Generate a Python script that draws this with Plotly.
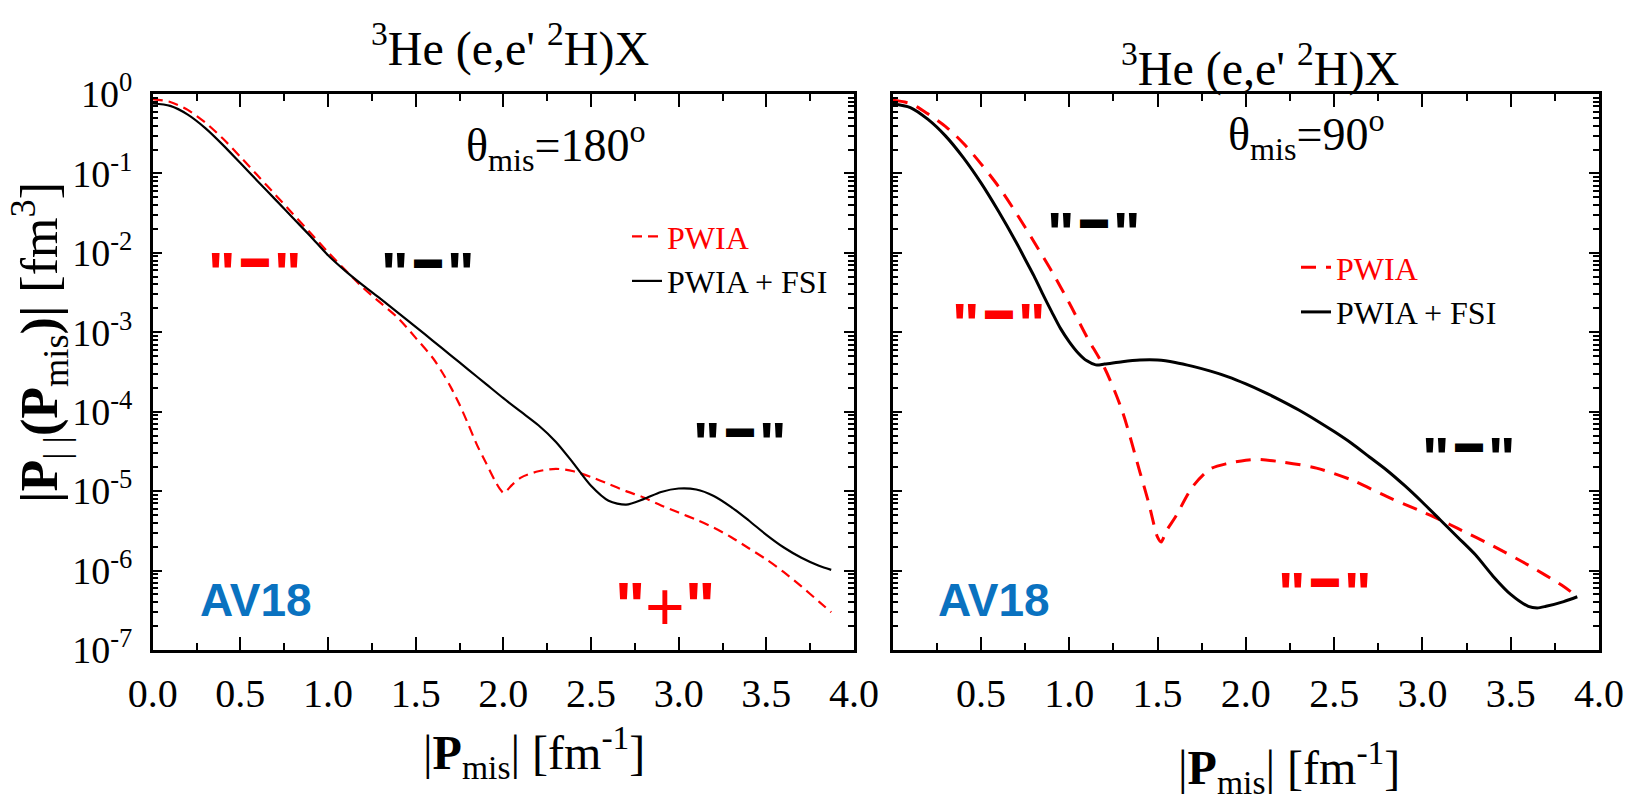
import plotly.graph_objects as go

# ---------------- data ----------------
# Left panel: theta_mis = 180 deg
x_l_pwia = [0.0, 0.1, 0.2, 0.3, 0.4, 0.5, 0.6, 0.7, 0.8, 0.9, 1.0, 1.1, 1.2, 1.3, 1.4, 1.5,
            1.6, 1.65, 1.7, 1.75, 1.8, 1.85, 1.9, 1.95, 1.98, 2.0, 2.02, 2.05, 2.1, 2.2, 2.3,
            2.4, 2.5, 2.6, 2.7, 2.8, 2.9, 3.0, 3.1, 3.2, 3.3, 3.4, 3.5, 3.6, 3.7, 3.8, 3.87]
y_l_pwia = [0.861, 0.794, 0.631, 0.437, 0.275, 0.162, 0.0933, 0.0537, 0.0309, 0.0178, 0.0102,
            6.03e-3, 3.63e-3, 2.34e-3, 1.51e-3, 8.51e-4, 4.68e-4, 3.16e-4, 2.04e-4, 1.23e-4,
            6.92e-5, 3.80e-5, 2.29e-5, 1.38e-5, 1.07e-5, 9.55e-6, 1.02e-5, 1.20e-5, 1.48e-5,
            1.78e-5, 1.91e-5, 1.78e-5, 1.51e-5, 1.23e-5, 1.0e-5, 8.32e-6, 6.61e-6, 5.37e-6,
            4.37e-6, 3.47e-6, 2.63e-6, 1.91e-6, 1.38e-6, 9.55e-7, 6.31e-7, 4.07e-7, 2.99e-7]

x_l_fsi = [0.0, 0.1, 0.2, 0.3, 0.4, 0.5, 0.6, 0.7, 0.8, 0.9, 1.0, 1.1, 1.2, 1.3, 1.4, 1.5,
           1.6, 1.7, 1.8, 1.9, 2.0, 2.1, 2.2, 2.3, 2.4, 2.5, 2.6, 2.7, 2.8, 2.9, 3.0, 3.1,
           3.2, 3.3, 3.4, 3.5, 3.6, 3.7, 3.8, 3.87]
y_l_fsi = [0.759, 0.708, 0.550, 0.372, 0.229, 0.135, 0.0794, 0.0468, 0.0275, 0.0162, 9.33e-3,
           5.89e-3, 3.89e-3, 2.63e-3, 1.76e-3, 1.17e-3, 7.76e-4, 5.13e-4, 3.39e-4, 2.24e-4,
           1.48e-4, 1.0e-4, 6.76e-5, 4.17e-5, 2.24e-5, 1.17e-5, 7.59e-6, 6.76e-6, 7.94e-6,
           9.77e-6, 1.08e-5, 1.05e-5, 8.71e-6, 6.31e-6, 4.27e-6, 2.82e-6, 1.95e-6, 1.45e-6,
           1.15e-6, 1.02e-6]

# Right panel: theta_mis = 90 deg
x_r_pwia = [0.0, 0.1, 0.2, 0.3, 0.4, 0.5, 0.6, 0.7, 0.8, 0.9, 1.0, 1.1, 1.2, 1.3, 1.4, 1.45,
            1.5, 1.52, 1.55, 1.6, 1.7, 1.8, 1.9, 2.0, 2.06, 2.2, 2.4, 2.6, 2.8, 3.0, 3.1, 3.2,
            3.4, 3.6, 3.8, 3.877]
y_r_pwia = [0.832, 0.759, 0.562, 0.389, 0.240, 0.132, 0.0681, 0.0316, 0.0138, 5.89e-3, 2.34e-3,
            8.71e-4, 3.55e-4, 1.02e-4, 1.74e-5, 7.08e-6, 2.63e-6, 2.29e-6, 3.16e-6, 4.68e-6,
            1.15e-5, 1.91e-5, 2.24e-5, 2.45e-5, 2.51e-5, 2.34e-5, 1.95e-5, 1.38e-5, 8.51e-6,
            5.50e-6, 4.37e-6, 3.39e-6, 2.04e-6, 1.17e-6, 6.31e-7, 4.68e-7]

x_r_fsi = [0.0, 0.1, 0.2, 0.3, 0.4, 0.5, 0.6, 0.7, 0.75, 0.8, 0.85, 0.9, 0.95, 1.0, 1.05,
           1.1, 1.15, 1.2, 1.3, 1.4, 1.5, 1.6, 1.7, 1.8, 1.9, 2.0, 2.1, 2.2, 2.3, 2.4, 2.5,
           2.6, 2.7, 2.8, 2.9, 3.0, 3.1, 3.2, 3.3, 3.4, 3.5, 3.6, 3.65, 3.7, 3.8, 3.877]
y_r_fsi = [0.750, 0.676, 0.479, 0.295, 0.158, 0.0759, 0.0331, 0.0135, 8.32e-3, 5.13e-3,
           3.02e-3, 1.82e-3, 1.12e-3, 7.59e-4, 5.50e-4, 4.37e-4, 3.89e-4, 3.98e-4, 4.27e-4,
           4.47e-4, 4.47e-4, 4.17e-4, 3.72e-4, 3.24e-4, 2.75e-4, 2.24e-4, 1.78e-4, 1.38e-4,
           1.05e-4, 7.76e-5, 5.62e-5, 3.98e-5, 2.69e-5, 1.82e-5, 1.17e-5, 7.24e-6, 4.37e-6,
           2.63e-6, 1.58e-6, 8.51e-7, 5.01e-7, 3.55e-7, 3.39e-7, 3.55e-7, 4.07e-7, 4.68e-7]

x_tick_left = [0.0, 0.5, 1.0, 1.5, 2.0, 2.5, 3.0, 3.5, 4.0]
x_tick_right = [0.5, 1.0, 1.5, 2.0, 2.5, 3.0, 3.5, 4.0]
y_exponents = [-7, -6, -5, -4, -3, -2, -1, 0]
y_tick_vals = [10.0 ** e for e in y_exponents]
y_tick_text = ["10<sup>%d</sup>" % e for e in y_exponents]
y_minor_vals = [m * 10.0 ** e for e in y_exponents[:-1] for m in range(2, 10)]

series_names = ["PWIA", "PWIA + FSI"]

# ---------------- figure ----------------
W, H = 1626, 802
SERIF = "Liberation Serif"
SANS = "Liberation Sans"
RED = "#ff0000"
BLUE = "#0a72c0"


def px(x):
    return x / W


def py(y):
    return 1 - y / H


fig = go.Figure()

fig.add_trace(go.Scatter(x=x_l_pwia, y=y_l_pwia, mode="lines", xaxis="x", yaxis="y",
                         name='<span style="color:#ff0000">%s</span>' % series_names[0],
                         line=dict(color=RED, width=2.2, dash="10px,6px", shape="spline", smoothing=0.8),
                         legend="legend"))
fig.add_trace(go.Scatter(x=x_l_fsi, y=y_l_fsi, mode="lines", xaxis="x", yaxis="y",
                         name=series_names[1],
                         line=dict(color="black", width=2.2, shape="spline", smoothing=0.8),
                         legend="legend"))
fig.add_trace(go.Scatter(x=x_r_pwia, y=y_r_pwia, mode="lines", xaxis="x2", yaxis="y2",
                         name='<span style="color:#ff0000">%s</span>' % series_names[0],
                         line=dict(color=RED, width=3, dash="15px,10px", shape="spline", smoothing=0.8),
                         legend="legend2"))
fig.add_trace(go.Scatter(x=x_r_fsi, y=y_r_fsi, mode="lines", xaxis="x2", yaxis="y2",
                         name=series_names[1],
                         line=dict(color="black", width=3, shape="spline", smoothing=0.8),
                         legend="legend2"))

ydom = [py(650), py(94)]
common_x = dict(range=[0, 4], showline=True, linewidth=2.5, linecolor="black", mirror="ticks",
                ticks="inside", ticklen=13, tickwidth=2, tickcolor="black", showgrid=False,
                zeroline=False, tickformat=".1f", automargin=False,
                tickfont=dict(family=SERIF, size=40, color="black"), ticklabelstandoff=6,
                minor=dict(dtick=0.25, ticks="inside", ticklen=7, tickwidth=2, tickcolor="black",
                           showgrid=False))
common_y = dict(type="log", range=[-7, 0], showline=True, linewidth=2.5, linecolor="black",
                mirror="ticks", ticks="inside", ticklen=10, tickwidth=2, tickcolor="black",
                showgrid=False, zeroline=False, tickmode="array", tickvals=y_tick_vals,
                ticktext=y_tick_text, tickfont=dict(family=SERIF, size=38, color="black"),
                ticklabelstandoff=10, automargin=False,
                minor=dict(tickmode="array", tickvals=y_minor_vals, ticks="inside", ticklen=6,
                           tickwidth=1.5, tickcolor="black", showgrid=False))

fig.update_layout(
    width=W, height=H, margin=dict(l=0, r=0, t=0, b=0, autoexpand=False),
    paper_bgcolor="white", plot_bgcolor="white",
    font=dict(family=SERIF, color="black"),
    xaxis=dict(common_x, domain=[px(152.7), px(854)], anchor="y", tickmode="array",
               tickvals=x_tick_left),
    yaxis=dict(common_y, domain=ydom, anchor="x"),
    xaxis2=dict(common_x, domain=[px(892.7), px(1599)], anchor="y2", tickmode="array",
                tickvals=x_tick_right),
    yaxis2=dict(common_y, domain=ydom, anchor="x2", showticklabels=False),
    legend=dict(x=px(627), y=py(209), xanchor="left", yanchor="top", bgcolor="rgba(0,0,0,0)",
                font=dict(family=SERIF, size=32, color="black"), tracegroupgap=0),
    legend2=dict(x=px(1296), y=py(240), xanchor="left", yanchor="top", bgcolor="rgba(0,0,0,0)",
                 font=dict(family=SERIF, size=32, color="black"), tracegroupgap=0),
    showlegend=True,
)

ann = []


def add_text(text, x, y, size, color="black", family=SERIF, angle=0, **kw):
    ann.append(dict(text=text, x=px(x), y=py(y), xref="paper", yref="paper", showarrow=False,
                    xanchor="center", yanchor="middle", textangle=angle,
                    font=dict(family=family, size=size, color=color), **kw))


# titles
add_text("<sup>3</sup>He (e,e' <sup>2</sup>H)X", 510, 45, 48)
add_text("<sup>3</sup>He (e,e' <sup>2</sup>H)X", 1260, 66, 48)
# angles
add_text("θ<sub>mis</sub>=180<sup>o</sup>", 556, 145, 46)
add_text("θ<sub>mis</sub>=90<sup>o</sup>", 1306, 134, 46)
# axis titles
add_text("<b>|P</b><sub>| |</sub><b>(P</b><sub>mis</sub><b>)|</b> [fm<sup>3</sup>]", 40, 343, 52, angle=-90)
add_text("|<b>P</b><sub>mis</sub>| [fm<sup>-1</sup>]", 534, 752, 48)
add_text("|<b>P</b><sub>mis</sub>| [fm<sup>-1</sup>]", 1289, 767, 48)
# AV18 labels
add_text("<b>AV18</b>", 256, 600, 46, color=BLUE, family=SANS)
add_text("<b>AV18</b>", 994, 600, 46, color=BLUE, family=SANS)


# sign markers: quote, symbol, quote
def sign_bar(cx, cy, color):
    add_text('<b>"</b>', cx - 33, cy + 12, 58, color=color, family=SANS)
    add_text('<b>"</b>', cx + 33, cy + 12, 58, color=color, family=SANS)
    add_text("▬", cx, cy - 3, 28, color=color, family=SANS)


sign_bar(255, 260, RED)
sign_bar(428, 261, "black")
sign_bar(740, 431, "black")
sign_bar(1094, 221, "black")
sign_bar(999, 312, RED)
sign_bar(1469, 445, "black")
sign_bar(1325, 580, RED)
# "+" marker
add_text('<b>"</b>', 630, 606, 64, color=RED, family=SANS)
add_text('<b>"</b>', 700, 606, 64, color=RED, family=SANS)
add_text("+", 665, 606, 68, color=RED, family=SANS)

fig.update_layout(annotations=ann)

fig.write_html("out.html")
